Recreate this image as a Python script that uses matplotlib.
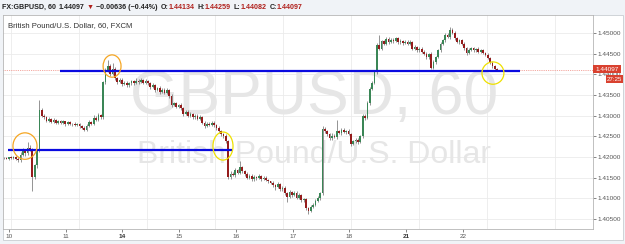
import matplotlib
matplotlib.use("Agg")
import matplotlib.pyplot as plt
import numpy as np
from matplotlib.patches import Ellipse, Rectangle

# hourly closes, GBPUSD 60
closes = [
    1.4198, 1.4196, 1.4199, 1.4197, 1.4200, 1.4196, 1.4193, 1.4206, 1.4214, 1.4209,
    1.4223, 1.4218, 1.4151, 1.4180, 1.4217, 1.4314, 1.4300, 1.4296, 1.4288, 1.4292,
    1.4285, 1.4290, 1.4283, 1.4287, 1.4282, 1.4286, 1.4280, 1.4284, 1.4279, 1.4281,
    1.4277, 1.4280, 1.4275, 1.4271, 1.4266, 1.4276, 1.4285, 1.4281, 1.4295, 1.4290,
    1.4302, 1.4296, 1.4381, 1.4410, 1.4420, 1.4402, 1.4412, 1.4390, 1.4382, 1.4386,
    1.4376, 1.4380, 1.4373, 1.4378, 1.4383, 1.4379, 1.4385, 1.4381, 1.4386, 1.4380,
    1.4384, 1.4378, 1.4370, 1.4374, 1.4362, 1.4366, 1.4358, 1.4363, 1.4356, 1.4362,
    1.4348, 1.4326, 1.4330, 1.4322, 1.4326, 1.4318, 1.4305, 1.4310, 1.4300, 1.4304,
    1.4296, 1.4300, 1.4293, 1.4296, 1.4283, 1.4276, 1.4281, 1.4278, 1.4283, 1.4277,
    1.4270, 1.4262, 1.4255, 1.4250, 1.4238, 1.4152, 1.4160, 1.4156, 1.4168, 1.4162,
    1.4176, 1.4165, 1.4160, 1.4150, 1.4155, 1.4146, 1.4152, 1.4149, 1.4153, 1.4147,
    1.4150, 1.4145, 1.4141, 1.4138, 1.4132, 1.4127, 1.4135, 1.4122, 1.4126, 1.4112,
    1.4104, 1.4116, 1.4108, 1.4114, 1.4102, 1.4108, 1.4095, 1.4098, 1.4076, 1.4070,
    1.4080, 1.4085, 1.4094, 1.4101, 1.4113, 1.4268, 1.4262, 1.4255, 1.4245, 1.4252,
    1.4248, 1.4262, 1.4258, 1.4266, 1.4260, 1.4263, 1.4256, 1.4232, 1.4238, 1.4242,
    1.4236, 1.4250, 1.4300, 1.4294, 1.4330, 1.4365, 1.4380, 1.4406, 1.4470, 1.4462,
    1.4480, 1.4474, 1.4486, 1.4478, 1.4484, 1.4480, 1.4487, 1.4477, 1.4481, 1.4476,
    1.4479, 1.4474, 1.4478, 1.4462, 1.4466, 1.4458, 1.4462, 1.4455, 1.4450, 1.4442,
    1.4448, 1.4416, 1.4430, 1.4442, 1.4458, 1.4474, 1.4483, 1.4496, 1.4490, 1.4508,
    1.4500, 1.4488, 1.4478, 1.4482, 1.4474, 1.4464, 1.4452, 1.4460, 1.4463, 1.4458,
    1.4461, 1.4455, 1.4458, 1.4452, 1.4447, 1.4440, 1.4428, 1.4420, 1.4413, 1.44097,
]
first_open = 1.4197

# wick lengths beyond the body, in pips
wick_up = [
    2, 3, 2, 3, 2, 2, 3, 6, 8, 5,   13, 6, 3, 4, 3, 24, 5, 4, 3, 4,
    3, 4, 2, 3, 3, 4, 2, 3, 3, 2,   4, 3, 3, 2, 4, 3, 5, 3, 6, 4,
    5, 3, 4, 6, 15, 4, 16, 5, 3, 4, 4, 3, 5, 3, 4, 3, 5, 3, 4, 3,
    5, 3, 4, 5, 3, 4, 6, 3, 4, 5,   3, 4, 3, 4, 3, 5, 3, 4, 3, 4,
    3, 4, 3, 5, 3, 4, 3, 4, 5, 3,   3, 4, 3, 4, 6, 4, 5, 3, 6, 4,
    14, 3, 4, 3, 5, 3, 4, 3, 5, 3,  4, 3, 3, 2, 4, 3, 5, 3, 4, 3,
    3, 4, 3, 5, 3, 4, 3, 4, 3, 3,   4, 3, 5, 4, 3, 6, 4, 3, 3, 5,
    4, 28, 3, 5, 4, 3, 4, 3, 4, 5,  3, 4, 5, 4, 6, 5, 4, 5, 6, 25,
    4, 3, 5, 4, 3, 5, 4, 3, 4, 3,   4, 3, 4, 3, 4, 3, 4, 3, 4, 3,
    3, 5, 4, 3, 4, 4, 3, 5, 4, 7,   3, 4, 3, 4, 3, 4, 3, 4, 3, 4,
    3, 4, 3, 4, 3, 4, 3, 4, 3, 2,
]
wick_dn = [
    3, 2, 3, 2, 3, 4, 5, 4, 3, 6,   4, 4, 33, 5, 6, 4, 3, 3, 4, 3,
    3, 3, 4, 2, 3, 3, 4, 3, 2, 3,   3, 3, 4, 4, 4, 3, 3, 4, 3, 4,
    3, 4, 5, 4, 4, 5, 3, 4, 5, 3,   4, 3, 4, 3, 3, 4, 3, 4, 3, 4,
    3, 4, 5, 3, 4, 3, 5, 3, 4, 3,   5, 4, 3, 4, 3, 4, 5, 3, 4, 3,
    4, 3, 4, 3, 4, 5, 3, 4, 3, 4,   4, 3, 5, 4, 4, 5, 4, 3, 4, 3,
    4, 3, 5, 4, 3, 4, 3, 4, 3, 4,   3, 4, 3, 4, 5, 6, 3, 4, 3, 5,
    14, 3, 4, 3, 4, 3, 4, 3, 5, 7,  3, 4, 3, 3, 4, 5, 4, 3, 5, 4,
    3, 4, 3, 4, 3, 4, 3, 6, 3, 4,   4, 3, 5, 4, 3, 4, 3, 4, 5, 4,
    3, 4, 3, 4, 3, 4, 3, 4, 3, 4,   3, 4, 3, 4, 3, 4, 3, 4, 3, 5,
    4, 4, 3, 4, 3, 4, 3, 4, 3, 4,   3, 4, 3, 4, 3, 4, 5, 3, 4, 3,
    3, 4, 3, 4, 3, 4, 3, 4, 3, 2,
]

day_labels = ["10", "11", "14", "15", "16", "17", "18", "21", "22"]
bold_days = ["14", "21"]
price_ticks = [1.405, 1.410, 1.415, 1.420, 1.425, 1.430, 1.435, 1.440, 1.445, 1.450]
last_price = 1.44097
countdown = "27:25"
levels = [1.4408, 1.4217]

header = [
    ("FX:GBPUSD, 60", "#222222", 3),
    ("1.44097", "#222222", 2),
    ("\u25bc", "#b0201c", 2),
    ("\u22120.00636 (\u22120.44%)", "#222222", 3),
    ("O:", "#222222", 0),
    ("1.44134", "#b0201c", 3),
    ("H:", "#222222", 0),
    ("1.44259", "#b0201c", 3),
    ("L:", "#222222", 0),
    ("1.44082", "#b0201c", 3),
    ("C:", "#222222", 0),
    ("1.44097", "#b0201c", 0),
]

plt.rcParams["font.family"] = ["Liberation Sans", "DejaVu Sans"]

W, H = 625, 244
fig = plt.figure(figsize=(W / 100, H / 100), dpi=100)
fig.patch.set_facecolor("#f0f3f7")

# white chart frame
fig.add_artist(Rectangle((3 / W, 1 - 240 / H), 620 / W, 225 / H, transform=fig.transFigure,
                         facecolor="white", edgecolor="#c9cdd2", lw=0.6, zorder=0))

ax = fig.add_axes([3 / W, 1 - 229 / H, 590 / W, 214 / H])
ax.set_facecolor("white")

x = np.arange(len(closes))
c = np.array(closes)
o = np.array([first_open] + closes[:-1])
hi = np.maximum(o, c) + np.array(wick_up) * 1e-4
lo = np.minimum(o, c) - np.array(wick_dn) * 1e-4
up = c >= o
body = np.where(np.abs(c - o) < 3e-5, 3e-5, c - o)
cols = np.where(up, "#3a8656", "#951c1c")

ax.vlines(x, lo, hi, color="#767676", lw=0.55, zorder=3)
ax.bar(x, body, bottom=o, width=0.72, color=cols, lw=0, zorder=4)

ax.set_xlim(-0.42, 249.6)
ax.set_ylim(1.40259, 1.45435)

# grid
for p in price_ticks:
    ax.axhline(p, color="#ebebeb", lw=0.6, zorder=1)
for k in range(9):
    ax.axvline(2.97 + k * 28.8, color="#ebebeb", lw=0.6, zorder=1)

# watermark
ax.text(0.527, 0.615, "GBPUSD, 60", transform=ax.transAxes, ha="center", va="center",
        fontsize=45, color="#e6e6e6", zorder=2)
ax.text(0.527, 0.345, "British Pound/U.S. Dollar", transform=ax.transAxes, ha="center",
        va="center", fontsize=23, color="#e6e6e6", zorder=2)
ax.text(5 / 590, 0.965, "British Pound/U.S. Dollar, 60, FXCM", transform=ax.transAxes,
        ha="left", va="top", fontsize=5.6, color="#333333", zorder=6)

# last price dotted line
ax.axhline(last_price, color="#ef8a80", lw=0.6, ls=(0, (1, 1.2)), zorder=2)

# drawn support / resistance lines
ax.hlines(levels[0], 23.7, 218.6, color="#0a0ae0", lw=1.6, zorder=5)
ax.hlines(levels[1], 1.7, 96.6, color="#0a0ae0", lw=1.6, zorder=5)

# hand drawn circles
for cx, cy, w, h, col in [(8.9, 1.42265, 10.2, 0.0064, "#f5a623"),
                          (45.8, 1.4420, 7.6, 0.0054, "#f5a623"),
                          (92.8, 1.42265, 8.5, 0.0068, "#eee000"),
                          (207.2, 1.4403, 9.3, 0.0054, "#eee000")]:
    ax.add_patch(Ellipse((cx, cy), w, h, fill=False, edgecolor=col, lw=0.9, zorder=6))

# axes
for s in ax.spines.values():
    s.set_color("#b5b5b5")
    s.set_linewidth(0.6)
ax.yaxis.tick_right()
ax.set_yticks(price_ticks)
ax.set_yticklabels([f"{p:.5f}" for p in price_ticks])
ax.tick_params(axis="y", length=2, width=0.5, pad=1.5, labelsize=4.6,
               colors="#555555")
tick_pos = [2.1 + k * 24.05 for k in range(len(day_labels))]
ax.set_xticks(tick_pos)
ax.set_xticklabels(day_labels)
ax.tick_params(axis="x", length=2, width=0.5, pad=1.5, labelsize=4.6,
               colors="#555555")
for t in ax.get_xticklabels():
    if t.get_text() in bold_days:
        t.set_fontweight("bold")
        t.set_color("#333333")

# price label boxes on the right axis
trans = ax.get_yaxis_transform()
ax.text(1.004, last_price + 0.0003, "1.44097", transform=trans, ha="left", va="center",
        fontsize=4.6, color="white", zorder=7, clip_on=False,
        bbox=dict(boxstyle="square,pad=0.3", fc="#d9412f", ec="none"))
ax.text(1.0495, last_price - 0.0021, countdown, transform=trans, ha="right", va="center",
        fontsize=4.4, color="white", zorder=7, clip_on=False,
        bbox=dict(boxstyle="square,pad=0.2", fc="#d9412f", ec="none"))

# header line
fig.canvas.draw()
rend = fig.canvas.get_renderer()
xpix = 2
for txt, col, gap in header:
    t = fig.text(xpix / W, 1 - 9 / H, txt, ha="left", va="baseline", fontsize=5.1,
                 fontweight="bold", color=col)
    xpix = t.get_window_extent(rend).x1 + gap

fig.savefig("out.png", dpi=100, facecolor=fig.get_facecolor())
